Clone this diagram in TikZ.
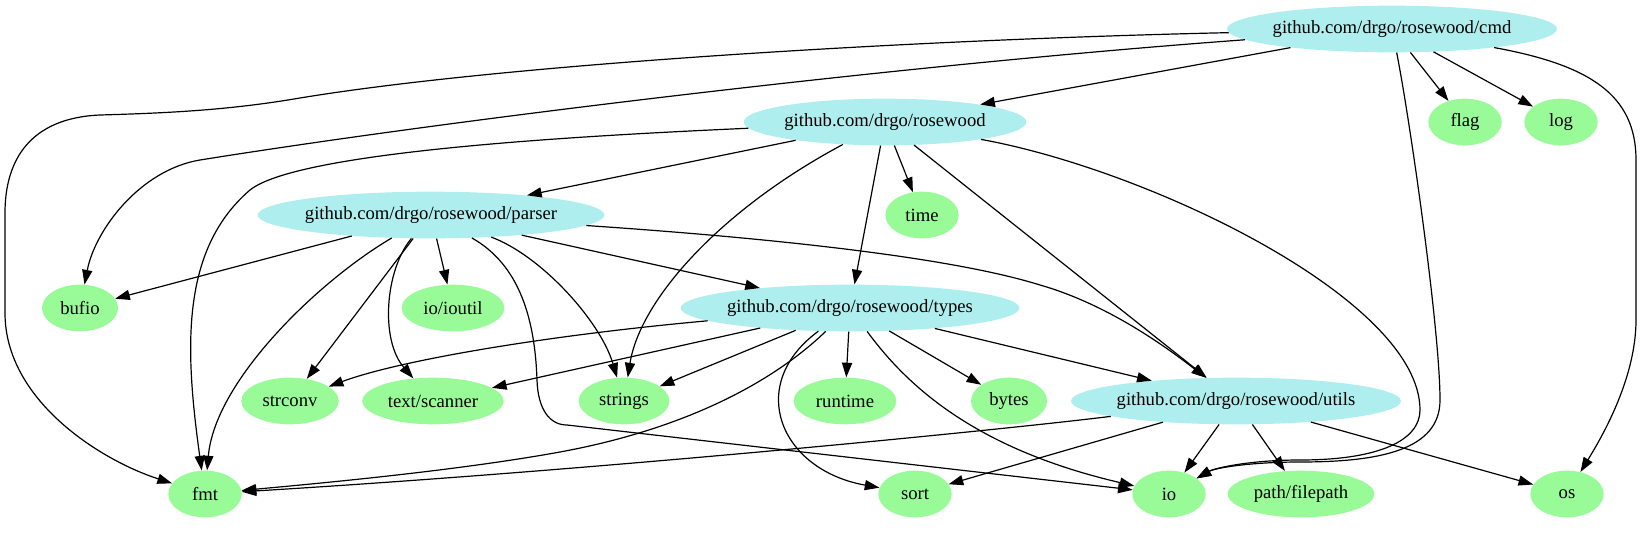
\documentclass[tikz,border=0pt]{standalone}
\usepackage{fontspec}
\setmainfont{Liberation Serif}
\usetikzlibrary{shapes.geometric,arrows.meta}
\definecolor{paleturq}{HTML}{AFEEEE}
\definecolor{palegrn}{HTML}{98FB98}
\begin{document}
\begin{tikzpicture}[
  x=0.75pt, y=-0.75pt,
  every node/.style={font=\fontsize{14pt}{16pt}\selectfont},
  pkg/.style={ellipse, fill=paleturq, inner xsep=-3pt, minimum height=35pt},
  lib/.style={ellipse, fill=palegrn, inner xsep=-3pt, minimum height=35pt, minimum width=55pt},
  dep/.style={draw, line width=0.9pt, -{Triangle[length=11pt,width=7.6pt]}}
]
\fill[white] (0,0) rectangle (1643,539);
\node[pkg, minimum width=247.5pt] (cmd) at (1392,29) {github.com/drgo/rosewood/cmd};
\node[pkg, minimum width=212pt] (rw) at (885,122) {github.com/drgo/rosewood};
\node[lib] (flag) at (1465,122) {flag};
\node[lib] (log) at (1561,122) {log};
\node[pkg, minimum width=260pt] (parser) at (431,215) {github.com/drgo/rosewood/parser};
\node[lib] (time) at (922,215) {time};
\node[lib, minimum width=57pt] (bufio) at (80,308) {bufio};
\node[lib, minimum width=77pt] (ioutil) at (453,308) {io/ioutil};
\node[pkg, minimum width=254pt] (types) at (850,308) {github.com/drgo/rosewood/types};
\node[lib, minimum width=73pt] (strconv) at (290,401) {strconv};
\node[lib, minimum width=106pt] (scanner) at (433,401) {text/scanner};
\node[lib, minimum width=68pt] (strings) at (624,401) {strings};
\node[lib, minimum width=77pt] (runtime) at (845,401) {runtime};
\node[lib, minimum width=57pt] (bytes) at (1009,401) {bytes};
\node[pkg, minimum width=247.5pt] (utils) at (1236,401) {github.com/drgo/rosewood/utils};
\node[lib] (fmt) at (205,494) {fmt};
\node[lib] (sort) at (915,494) {sort};
\node[lib] (io) at (1169,494) {io};
\node[lib, minimum width=110pt] (filepath) at (1301,494) {path/filepath};
\node[lib] (os) at (1567,494) {os};

\foreach \a/\b in {cmd/rw, cmd/flag, cmd/log, rw/parser, rw/time, rw/types, rw/utils,
  parser/bufio, parser/ioutil, parser/strconv, parser/types, types/scanner, types/strings,
  types/runtime, types/bytes, types/utils, utils/sort, utils/io, utils/filepath, utils/os}
  \draw[dep] (\a) -- (\b);

\draw[dep] (cmd) .. controls (900,40) and (500,65) .. (300,98) .. controls (230,110) and (170,113) .. (100,115)
  .. controls (30,118) and (5,160) .. (5,213) -- (5,313) .. controls (5,400) and (100,460) .. (fmt);
\draw[dep] (cmd) .. controls (900,65) and (450,120) .. (200,160) .. controls (140,170) and (95,230) .. (bufio);
\draw[dep] (cmd) .. controls (1590,65) and (1636,95) .. (1636,160) -- (1636,320) .. controls (1636,380) and (1600,440) .. (os);
\draw[dep] (cmd) .. controls (1410,120) and (1440,330) .. (1440,400) .. controls (1440,450) and (1380,462) .. (1300,462)
  .. controls (1250,462) and (1215,468) .. (io);
\draw[dep] (rw) .. controls (600,135) and (300,150) .. (250,190) .. controls (180,250) and (185,350) .. (fmt);
\draw[dep] (rw) .. controls (720,210) and (640,300) .. (strings);
\draw[dep] (rw) .. controls (1150,170) and (1420,300) .. (1420,410) .. controls (1420,440) and (1380,460) .. (1300,460)
  .. controls (1250,460) and (1215,468) .. (io);
\draw[dep] (parser) .. controls (320,280) and (215,380) .. (fmt);
\draw[dep] (parser) .. controls (385,270) and (380,340) .. (scanner);
\draw[dep] (parser) .. controls (540,255) and (600,320) .. (strings);
\draw[dep] (parser) .. controls (520,265) and (535,320) .. (537,380) .. controls (538,410) and (550,425) .. (567,425) -- (io);
\draw[dep] (parser) .. controls (800,240) and (960,260) .. (1040,285) .. controls (1110,305) and (1170,350) .. (utils);
\draw[dep] (types) .. controls (550,335) and (400,360) .. (strconv);
\draw[dep] (types) .. controls (770,385) and (680,430) .. (560,452) .. controls (450,472) and (300,485) .. (fmt);
\draw[dep] (types) .. controls (745,385) and (780,470) .. (sort);
\draw[dep] (types) .. controls (910,390) and (980,450) .. (io);
\draw[dep] (utils) .. controls (1000,430) and (600,470) .. (fmt);
\end{tikzpicture}
\end{document}
